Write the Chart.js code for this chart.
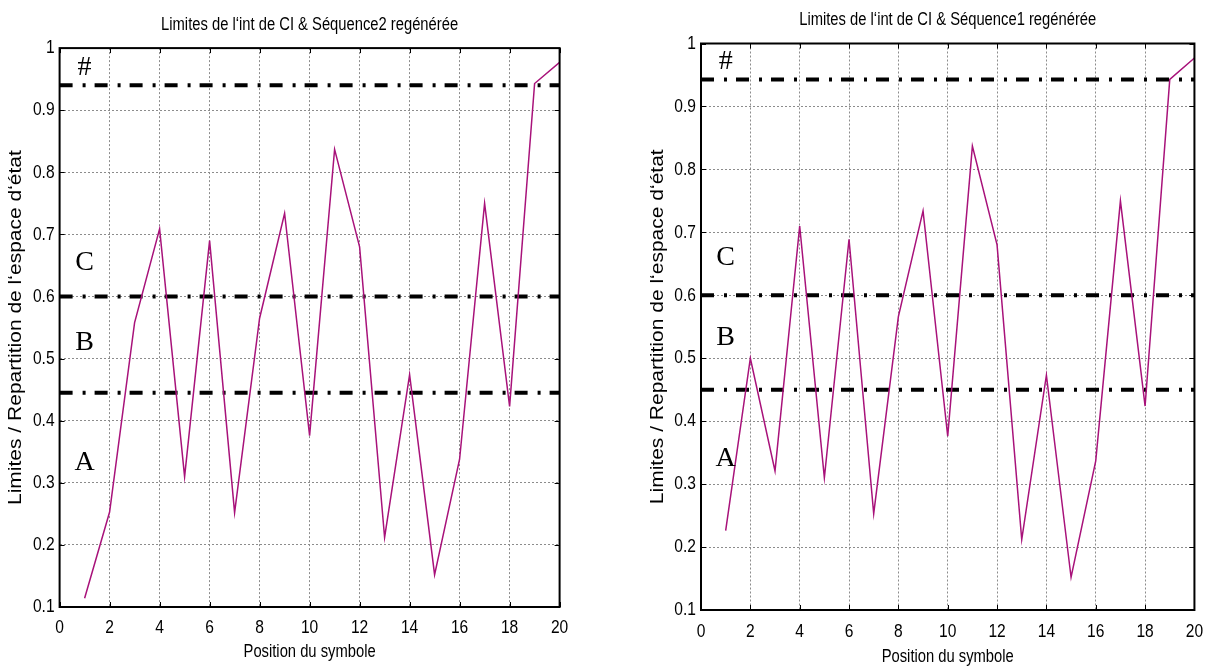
<!DOCTYPE html>
<html>
<head>
<meta charset="utf-8">
<script src="https://cdn.jsdelivr.net/npm/chart.js@4.4.1/dist/chart.umd.min.js"></script>
<style>
  html, body { margin: 0; padding: 0; background: #ffffff; }
  #wrap { position: relative; width: 1215px; height: 668px; overflow: hidden; }
  .panel { position: absolute; top: 0; height: 668px; }
</style>
</head>
<body>
<div id="wrap">
  <div class="panel" style="left:0;width:600px"><canvas id="seq2"></canvas></div>
  <div class="panel" style="left:600px;width:615px"><canvas id="seq1"></canvas></div>
</div>
<script>
// Symbol positions along the regenerated sequence
const positions = [1, 2, 3, 4, 5, 6, 7, 8, 9, 10, 11, 12, 13, 14, 15, 16, 17, 18, 19, 20];

// Regenerated values (state-space partition) for each sequence
const seq2Values = [0.114, 0.253, 0.558, 0.709, 0.310, 0.690, 0.252, 0.565, 0.734, 0.376,
                    0.837, 0.680, 0.212, 0.474, 0.152, 0.338, 0.750, 0.423, 0.943, 0.977];
const seq1Values = [0.226, 0.500, 0.321, 0.710, 0.310, 0.689, 0.253, 0.566, 0.734, 0.376,
                    0.837, 0.680, 0.212, 0.473, 0.152, 0.337, 0.750, 0.424, 0.943, 0.977];

// Interval limits separating the zones A / B / C / #
const seq2Limits = [0.445, 0.600, 0.940];
const seq1Limits = [0.450, 0.600, 0.943];

// Zone names, bottom to top
const zoneNames = ['A', 'B', 'C', '#'];

// Axis ticks
const xTicks = [0, 2, 4, 6, 8, 10, 12, 14, 16, 18, 20];
const yTicks = [0.1, 0.2, 0.3, 0.4, 0.5, 0.6, 0.7, 0.8, 0.9, 1];
const yTickLabels = ['0.1', '0.2', '0.3', '0.4', '0.5', '0.6', '0.7', '0.8', '0.9', '1'];

// "Narrow" text is drawn horizontally condensed; the "Helvetica" stack is used
// for the rotated y title, which is drawn slightly thinner.
const NARROW = "'Liberation Sans Narrow', 'Arial Narrow', 'Liberation Sans', sans-serif";
const REGULAR = "'Liberation Sans', Helvetica, sans-serif";
const SERIF = "'Liberation Serif', 'Times New Roman', serif";

function condenseText(ctx) {
  const baseFill = ctx.fillText.bind(ctx);
  ctx.fillText = function (text, x, y, maxWidth) {
    const f = this.font || '';
    let sx = 1, sy = 1;
    if (f.indexOf('Narrow') >= 0) sx = 0.82;
    else if (f.indexOf('Helvetica') >= 0) sy = 0.88;
    if (sx === 1 && sy === 1) {
      return maxWidth === undefined ? baseFill(text, x, y) : baseFill(text, x, y, maxWidth);
    }
    this.save();
    this.translate(x, y);
    this.scale(sx, sy);
    if (maxWidth === undefined) baseFill(text, 0, 0);
    else baseFill(text, 0, 0, maxWidth / sx);
    this.restore();
  };
}

// MATLAB-like axes box with inward tick marks
const boxPlugin = {
  id: 'axesBox',
  afterDraw(chart) {
    const { ctx, chartArea: a, scales } = chart;
    ctx.save();
    ctx.strokeStyle = '#000';
    ctx.lineWidth = 1;
    const len = 5;
    ctx.beginPath();
    xTicks.forEach(v => {
      const px = Math.round(scales.x.getPixelForValue(v)) + 0.5;
      ctx.moveTo(px, a.bottom); ctx.lineTo(px, a.bottom - len);
      ctx.moveTo(px, a.top); ctx.lineTo(px, a.top + len);
    });
    yTicks.forEach(v => {
      const py = Math.round(scales.y.getPixelForValue(v)) + 0.5;
      ctx.moveTo(a.left, py); ctx.lineTo(a.left + len, py);
      ctx.moveTo(a.right, py); ctx.lineTo(a.right - len, py);
    });
    ctx.stroke();
    ctx.lineWidth = 2;
    ctx.strokeRect(a.left, a.top, a.right - a.left, a.bottom - a.top);
    ctx.restore();
  }
};

// Zone letters written inside the plot at x = 1
const zonePlugin = {
  id: 'zoneLetters',
  afterDatasetsDraw(chart, args, opts) {
    const { ctx, scales } = chart;
    ctx.save();
    ctx.fillStyle = '#000';
    ctx.font = '28px ' + SERIF;
    ctx.textAlign = 'center';
    ctx.textBaseline = 'middle';
    zoneNames.forEach((name, i) => {
      ctx.fillText(name, scales.x.getPixelForValue(opts.x), scales.y.getPixelForValue(opts.y[i]));
    });
    ctx.restore();
  }
};

function limitDataset(level) {
  return {
    data: [{ x: 0, y: level }, { x: 20, y: level }],
    borderColor: '#000000',
    borderWidth: 4,
    borderDash: [13, 10, 3, 9],
    borderCapStyle: 'butt',
    pointRadius: 0,
    tension: 0
  };
}

function makeChart(id, title, values, limits, g) {
  const canvas = document.getElementById(id);
  condenseText(canvas.getContext('2d'));
  const seriesData = positions.map((p, i) => ({ x: p, y: values[i] }));
  return new Chart(canvas, {
    type: 'line',
    data: {
      datasets: [
        {
          data: seriesData,
          borderColor: '#A8127A',
          borderWidth: 1.5,
          pointRadius: 0,
          tension: 0
        },
        ...limits.map(limitDataset)
      ]
    },
    options: {
      responsive: true,
      maintainAspectRatio: false,
      animation: false,
      events: [],
      layout: { padding: { left: g.padLeft, right: g.padRight, top: 0, bottom: 0 } },
      plugins: {
        legend: { display: false },
        tooltip: { enabled: false },
        title: {
          display: true,
          text: title,
          fullSize: false,
          color: '#000',
          font: { family: NARROW, size: 18, weight: 'normal', lineHeight: 1.2 },
          padding: { top: g.titleTop, bottom: g.titleBottom }
        },
        zoneLetters: { x: 1, y: g.letterY }
      },
      scales: {
        x: {
          type: 'linear',
          min: 0, max: 20,
          afterBuildTicks: s => { s.ticks = xTicks.map(v => ({ value: v })); },
          afterFit: s => { s.height = g.xHeight; },
          grid: { color: '#8c8c8c', lineWidth: 1, drawTicks: false },
          border: { display: false, dash: [2, 2] },
          ticks: {
            color: '#000', padding: g.xTickPad, maxRotation: 0,
            font: { family: NARROW, size: 19, lineHeight: 1.2 },
            callback: v => String(v)
          },
          title: {
            display: true, text: 'Position du symbole', color: '#000',
            font: { family: NARROW, size: 18, lineHeight: 1.2 },
            padding: { top: 0, bottom: g.xTitlePad }
          }
        },
        y: {
          type: 'linear',
          min: 0.1, max: 1,
          afterBuildTicks: s => { s.ticks = yTicks.map(v => ({ value: v })); },
          afterFit: s => { s.width = g.yWidth; },
          grid: { color: '#8c8c8c', lineWidth: 1, drawTicks: false },
          border: { display: false, dash: [2, 2] },
          ticks: {
            color: '#000', padding: 5,
            font: { family: NARROW, size: 19, lineHeight: 1.2 },
            callback: (v) => yTickLabels[yTicks.findIndex(t => Math.abs(t - v) < 1e-9)]
          },
          title: {
            display: true, text: 'Limites / Repartition de l\u2018espace d\u2018\u00e9tat', color: '#000',
            font: { family: REGULAR, size: 21, lineHeight: 1.2 },
            padding: { top: 3, bottom: 0 }
          }
        }
      }
    },
    plugins: [zonePlugin, boxPlugin]
  });
}

makeChart('seq2', 'Limites de l\u2018int de CI & S\u00e9quence2 reg\u00e9n\u00e9r\u00e9e', seq2Values, seq2Limits, {
  padLeft: 0, padRight: 40.4, titleTop: 14, titleBottom: 12.5,
  yWidth: 59.6, xHeight: 61, xTickPad: 9, xTitlePad: 5,
  letterY: [0.332, 0.525, 0.654, 0.968]
});

makeChart('seq1', 'Limites de l\u2018int de CI & S\u00e9quence1 reg\u00e9n\u00e9r\u00e9e', seq1Values, seq1Limits, {
  padLeft: 42, padRight: 17.5, titleTop: 9, titleBottom: 12.9,
  yWidth: 59, xHeight: 58, xTickPad: 10, xTitlePad: 0,
  letterY: [0.341, 0.532, 0.659, 0.971]
});
</script>
</body>
</html>
